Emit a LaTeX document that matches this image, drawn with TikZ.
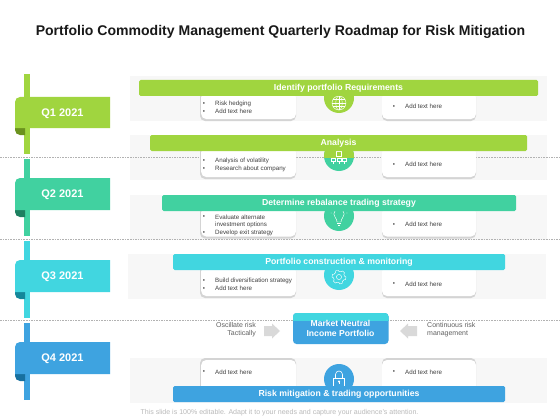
\documentclass[tikz,border=0pt]{standalone}
\usepackage{fontspec}
\setmainfont{Liberation Sans}
\usetikzlibrary{calc}
\definecolor{cgreen}{HTML}{A0D53F}
\definecolor{cteal}{HTML}{41D1A0}
\definecolor{ccyan}{HTML}{41D6E0}
\definecolor{cblue}{HTML}{3EA3E0}
\definecolor{dgreen}{HTML}{6B921E}
\definecolor{dteal}{HTML}{1D8060}
\definecolor{dcyan}{HTML}{14879A}
\definecolor{dblue}{HTML}{17709F}
\definecolor{panelc}{HTML}{F7F7F7}
\definecolor{cardedge}{HTML}{D4D4D4}
\definecolor{bodyc}{HTML}{404040}
\tikzset{
  panel/.style={fill=panelc,draw=none},
  cardshadow/.style={fill=cardedge,draw=none,rounded corners=5pt},
  cardface/.style={fill=white,draw=none,rounded corners=5pt},
  barbox/.style={draw=none,rounded corners=1.5pt,minimum height=16pt,inner sep=0pt,text=white,font=\fontsize{8.7}{9}\selectfont\bfseries,align=center,text height=6.2pt,text depth=1.2pt},
  bodytext/.style={anchor=west,inner sep=0pt,text=bodyc,font=\fontsize{6.2}{7}\selectfont},
  bullet/.style={anchor=center,inner sep=0pt,text=bodyc,font=\fontsize{6.2}{7}\selectfont},
  sidetext/.style={inner sep=0pt,text=black!62,font=\fontsize{7}{8.2}\selectfont},
  quarter/.style={inner sep=0pt,text=white,font=\fontsize{11}{12}\selectfont\bfseries},
  icon/.style={draw=white,line width=0.45pt,fill=none},
  grayarrow/.style={fill=black!15,draw=none}
}
\newcommand{\cardpair}[2]{% top, bottom
  \fill[cardshadow] (200,#1) rectangle (296,#2);
  \fill[cardface] (201.2,#1) rectangle (296,#2-2);
  \fill[cardshadow] (382,#1) rectangle (476,#2);
  \fill[cardface] (382,#1) rectangle (476,#2-2);
}
\newcommand{\bltext}[4]{% name,x,y,text
  \node[bullet] (#1b) at (#2-11,#3+0.7) {•};
  \node[bodytext] (#1) at (#2,#3+0.7) {#4};
}
\newcommand{\quarterflag}[8]{% name, col, dark, striptop, stripbottom, flagtop, flagbottom, text
  \fill[#2] (24,#4) rectangle (30,#5);
  \fill[#3] (15,#7-4) -- (15,#7+2) arc[start angle=180,end angle=90,radius=5] -- (25,#7+7) -- (25,#7-4) -- cycle;
  \fill[#2] (15,#7) -- (15,#6+5) arc[start angle=180,end angle=270,radius=5] -- (110,#6) -- (110,#7) -- cycle;
  \node[quarter] (#1) at (62.5,{(#6+#7)/2+1}) {#8};
}
\begin{document}
\begin{tikzpicture}[x=1pt,y=-1pt]
\useasboundingbox (0,0) rectangle (560,420);
\fill[white] (0,0) rectangle (560,420);
% panels
\fill[panel] (130,76) rectangle (547,121);
\fill[panel] (130,135) rectangle (547,180);
\fill[panel] (130,195) rectangle (547,240);
\fill[panel] (128,254) rectangle (546,299);
\fill[panel] (130,358) rectangle (547,403);
% dashed separators
\foreach \yy in {157.5,239,320.5}
  \draw[black!30,line width=0.35pt,dash pattern=on 1.6pt off 1pt] (0,\yy) -- (560,\yy);
% title
\node[inner sep=0pt,font=\fontsize{14.05}{15}\selectfont\bfseries,text=black!90] (title) at (280.5,31.5) {Portfolio Commodity Management Quarterly Roadmap for Risk Mitigation};
% quarter flags
\quarterflag{qa}{cgreen}{dgreen}{74}{154}{97}{128}{Q1 2021}
\quarterflag{qb}{cteal}{dteal}{159}{236}{178}{210}{Q2 2021}
\quarterflag{qc}{ccyan}{dcyan}{241}{318}{260}{292}{Q3 2021}
\quarterflag{qd}{cblue}{dblue}{323}{400}{342}{374}{Q4 2021}
% cards
\cardpair{92}{121}
\cardpair{147}{179}
\cardpair{207}{238.5}
\cardpair{266}{298}
% flipped cards, row 4
\fill[cardshadow] (200,358) rectangle (296,392);
\fill[cardface] (201.2,360) rectangle (296,392);
\fill[cardshadow] (382,358) rectangle (476,392);
\fill[cardface] (382,360) rectangle (476,392);
% circles
\fill[cgreen] (339,98) circle (15);
\fill[cteal] (339,156) circle (15);
\begin{scope}
  \clip (320,130) rectangle (360,157.5);
  \fill[cgreen] (339,156) circle (15);
\end{scope}
\fill[cteal] (339,216) circle (15);
\fill[ccyan] (339,275) circle (15);
\fill[cblue] (339,379) circle (15);
% globe
\begin{scope}[shift={(339,103)}]
  \draw[icon] (0,0) circle (7);
  \draw[icon] (0,0) ellipse (3.2 and 7);
  \draw[icon] (0,-7) -- (0,7) (-7,0) -- (7,0) (-6,-3.5) -- (6,-3.5) (-6,3.5) -- (6,3.5);
\end{scope}
% network
\begin{scope}[shift={(339,157)}]
  \draw[icon] (-2.5,-6) rectangle (2.5,-1);
  \draw[icon] (-7.5,1) rectangle (-3.5,4.5) (-2,1) rectangle (2,4.5) (3.5,1) rectangle (7.5,4.5);
  \draw[icon] (-5.5,4.5) -- (-5.5,6.5) (0,4.5) -- (0,6.5) (5.5,4.5) -- (5.5,6.5);
\end{scope}
% bulb
\begin{scope}[shift={(339,217)}]
  \draw[icon] (-2,5) .. controls (-2,1) and (-5.2,0.5) .. (-5.2,-3) arc[start angle=180,end angle=360,radius=5.2] .. controls (5.2,0.5) and (2,1) .. (2,5) -- cycle;
  \draw[icon] (-2,6.5) -- (2,6.5) (-1.2,8) -- (1.2,8);
  \draw[icon] (0,-11) -- (0,-9) (-6,-9) -- (-5,-7.5) (6,-9) -- (5,-7.5) (-8.5,-4) -- (-7,-4) (8.5,-4) -- (7,-4);
\end{scope}
% gear
\begin{scope}[shift={(339,277)}]
  \draw[icon] (0,0) circle (2.6);
  \draw[icon,line join=round] (0:7)
    -- (22:7) -- (30:5.6) -- (52:5.6) -- (60:7)
    -- (82:7) -- (90:5.6) -- (112:5.6) -- (120:7)
    -- (142:7) -- (150:5.6) -- (172:5.6) -- (180:7)
    -- (202:7) -- (210:5.6) -- (232:5.6) -- (240:7)
    -- (262:7) -- (270:5.6) -- (292:5.6) -- (300:7)
    -- (322:7) -- (330:5.6) -- (352:5.6) -- cycle;
\end{scope}
% lock
\begin{scope}[shift={(339,379)}]
  \draw[icon,line width=0.6pt] (-5.5,-1) rectangle (5.5,7);
  \draw[icon,line width=0.6pt] (-3.5,-1) -- (-3.5,-4.5) arc[start angle=180,end angle=360,radius=3.5] -- (3.5,-1);
  \fill[white] (0,2.5) circle (1.1);
  \draw[icon,line width=0.6pt] (0,2.5) -- (0,5);
\end{scope}
% bars
\node[barbox,fill=cgreen,minimum width=399pt] (ba) at (338.5,88) {Identify portfolio Requirements};
\node[barbox,fill=cgreen,minimum width=377pt] (bb) at (338.5,143) {Analysis};
\node[barbox,fill=cteal,minimum width=354pt] (bc) at (339,203) {Determine rebalance trading strategy};
\node[barbox,fill=ccyan,minimum width=332pt] (bd) at (339,262) {Portfolio construction \& monitoring};
\node[barbox,fill=cblue,minimum width=332pt] (be) at (339,394) {Risk mitigation \& trading opportunities};
% card text
\bltext{ta}{215}{103}{Risk hedging}
\bltext{tb}{215}{111}{Add text here}
\bltext{tc}{405}{106}{Add text here}
\bltext{td}{215}{160.5}{Analysis of volatility}
\bltext{te}{215}{168}{Research about company}
\bltext{tf}{405}{164}{Add text here}
\bltext{tg}{215}{216.5}{Evaluate alternate}
\node[bodytext] (th) at (215,224.9) {investment options};
\bltext{ti}{215}{232}{Develop exit strategy}
\bltext{tj}{405}{224}{Add text here}
\bltext{tk}{215}{280}{Build diversification strategy}
\bltext{tl}{215}{288}{Add text here}
\bltext{tm}{405}{283.5}{Add text here}
\bltext{tn}{215}{371.5}{Add text here}
\bltext{to}{405}{371.5}{Add text here}
% central box
\fill[cblue,rounded corners=3.5pt] (293,313) rectangle (388.5,344);
\begin{scope}
  \clip (285,305) rectangle (395,320.5);
  \fill[ccyan,rounded corners=3.5pt] (293,313) rectangle (388.5,344);
\end{scope}
\node[inner sep=0pt,text=white,font=\fontsize{8.6}{10.5}\selectfont\bfseries,align=center] (mid) at (340.5,328.5) {Market Neutral\\Income Portfolio};
% side arrows and labels
\fill[grayarrow] (264,326) -- (272,326) -- (272,323.5) -- (280,331) -- (272,338.5) -- (272,336) -- (264,336) -- cycle;
\fill[grayarrow] (417,326) -- (408,326) -- (408,323.5) -- (400,331) -- (408,338.5) -- (408,336) -- (417,336) -- cycle;
\node[sidetext,align=right,anchor=east] (ls) at (256,329.5) {Oscillate risk\\Tactically};
\node[sidetext,align=left,anchor=west] (rs) at (427,329.5) {Continuous risk\\management};
% footer
\node[inner sep=0pt,text=black!27,font=\fontsize{7.05}{8}\selectfont] (foot) at (279.5,413) {This slide is 100\% editable. Adapt it to your needs and capture your audience's attention.};
\end{tikzpicture}
\end{document}
